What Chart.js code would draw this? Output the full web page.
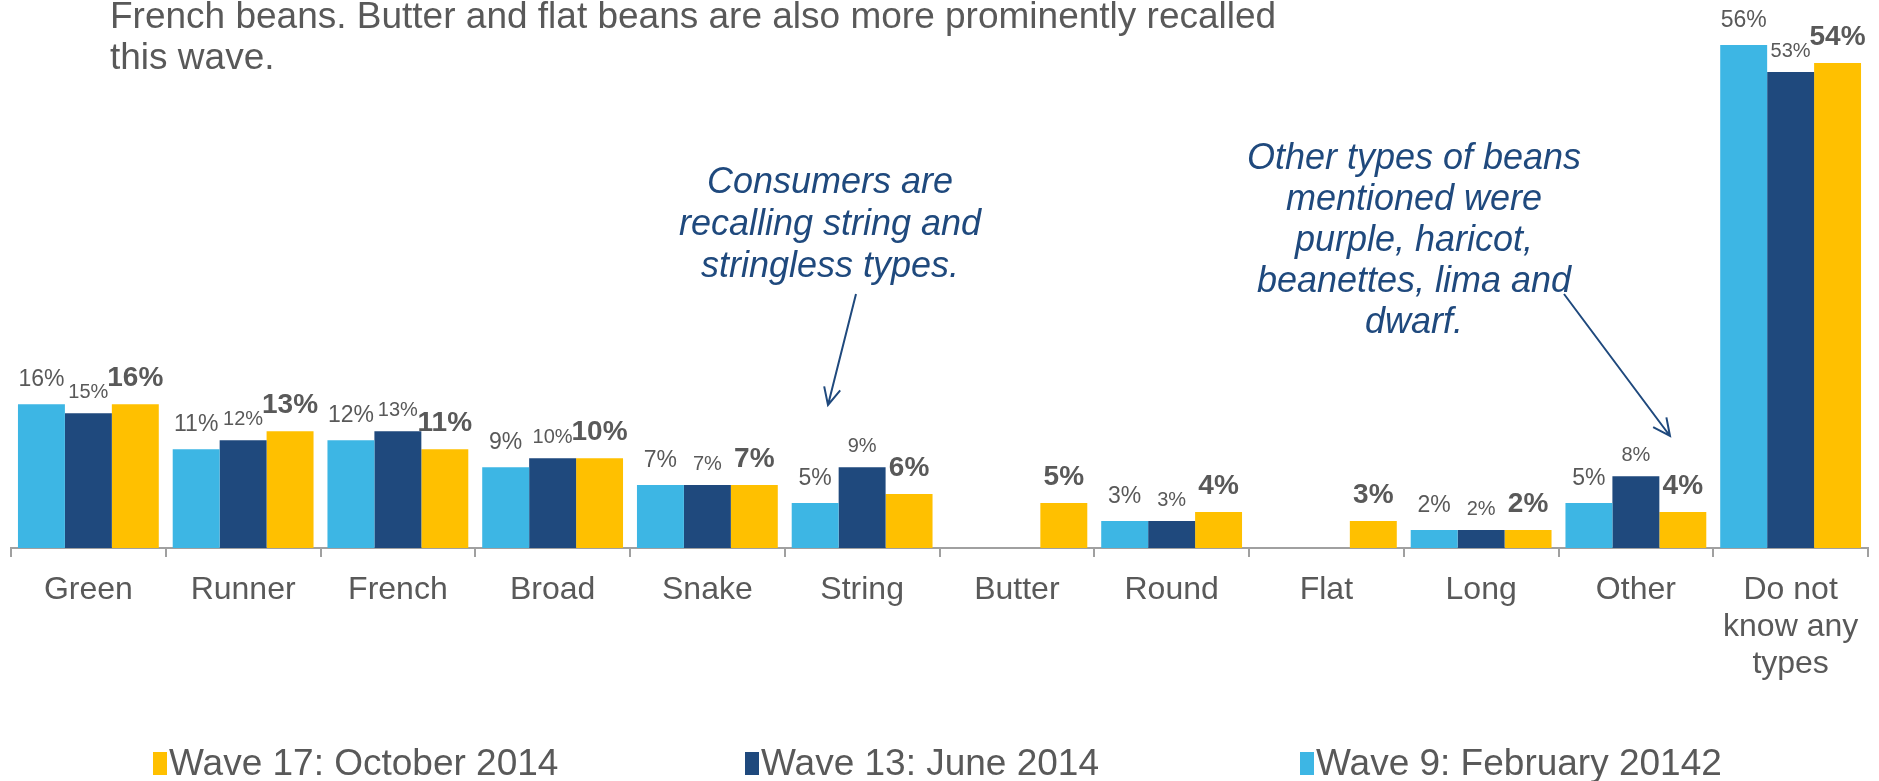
<!DOCTYPE html>
<html>
<head>
<meta charset="utf-8">
<script src="https://cdn.jsdelivr.net/npm/chart.js@4"></script>
<style>
  body { margin: 0; background: #fff; }
  #wrap { position: relative; width: 1879px; height: 781px; overflow: hidden; }
  #chart { position: absolute; left: 0; top: 0; }
  .legend-item { position: absolute; top: 742px; display: flex; align-items: center; font-family: "Liberation Sans", Arial, sans-serif; font-size: 37px; color: #595959; white-space: nowrap; }
  .legend-box { width: 14px; height: 23px; margin-right: 2px; }
</style>
</head>
<body>
<div id="wrap">
  <canvas id="chart" width="1879" height="781"></canvas>
  <div id="legend"></div>
</div>
<script>
// bean types recalled, per wave
const categories = ['Green', 'Runner', 'French', 'Broad', 'Snake', 'String', 'Butter', 'Round', 'Flat', 'Long', 'Other', ['Do not', 'know any', 'types']];
const wave9 = [16, 11, 12, 9, 7, 5, null, 3, null, 2, 5, 56];
const wave13 = [15, 12, 13, 10, 7, 9, null, 3, null, 2, 8, 53];
const wave17 = [16, 13, 11, 10, 7, 6, 5, 4, 3, 2, 4, 54];

const seriesNames = ['Wave 9: February 20142', 'Wave 13: June 2014', 'Wave 17: October 2014'];
const seriesColors = ['#3DB6E4', '#1F497D', '#FFC000'];

const FONT = '"Liberation Sans", Arial, sans-serif';
const GREY = '#595959';
const NOTE = '#1F497D';

// percentages above each bar, last wave in bold
const labelFonts = ['23px ' + FONT, '20px ' + FONT, 'bold 28px ' + FONT];
const labelGap = [18, 15, 18];
const valueLabels = {
  id: 'valueLabels',
  afterDatasetsDraw(chart) {
    const ctx = chart.ctx;
    chart.data.datasets.forEach((ds, i) => {
      const meta = chart.getDatasetMeta(i);
      meta.data.forEach((bar, j) => {
        const v = ds.data[j];
        if (v == null) return;
        ctx.save();
        ctx.font = labelFonts[i];
        ctx.fillStyle = GREY;
        ctx.textAlign = 'center';
        ctx.textBaseline = 'alphabetic';
        ctx.fillText(v + '%', bar.x, bar.y - labelGap[i]);
        ctx.restore();
      });
    });
  }
};

function arrow(ctx, x1, y1, x2, y2) {
  const a = Math.atan2(y2 - y1, x2 - x1);
  const len = 19;
  ctx.beginPath();
  ctx.moveTo(x1, y1);
  ctx.lineTo(x2, y2);
  ctx.moveTo(x2 - len * Math.cos(a - 0.45), y2 - len * Math.sin(a - 0.45));
  ctx.lineTo(x2, y2);
  ctx.lineTo(x2 - len * Math.cos(a + 0.45), y2 - len * Math.sin(a + 0.45));
  ctx.stroke();
}

// heading text and the two call-outs
const notes = {
  id: 'notes',
  afterDraw(chart) {
    const ctx = chart.ctx;
    ctx.save();
    ctx.font = '37px ' + FONT;
    ctx.fillStyle = GREY;
    ctx.textAlign = 'left';
    ctx.fillText('French beans. Butter and flat beans are also more prominently recalled', 110, 28);
    ctx.fillText('this wave.', 110, 69);

    ctx.font = 'italic 36px ' + FONT;
    ctx.fillStyle = NOTE;
    ctx.textAlign = 'center';
    ['Consumers are', 'recalling string and', 'stringless types.'].forEach((t, k) => {
      ctx.fillText(t, 830, 193 + k * 42);
    });
    ['Other types of beans', 'mentioned were', 'purple, haricot,', 'beanettes, lima and', 'dwarf.'].forEach((t, k) => {
      ctx.fillText(t, 1414, 169 + k * 41);
    });

    ctx.strokeStyle = NOTE;
    ctx.lineWidth = 2;
    arrow(ctx, 856, 294, 828, 405);
    arrow(ctx, 1564, 294, 1670, 436);
    ctx.restore();
  }
};

const chart = new Chart(document.getElementById('chart'), {
  type: 'bar',
  data: {
    labels: categories,
    datasets: [
      { label: seriesNames[0], data: wave9, backgroundColor: seriesColors[0] },
      { label: seriesNames[1], data: wave13, backgroundColor: seriesColors[1] },
      { label: seriesNames[2], data: wave17, backgroundColor: seriesColors[2] }
    ]
  },
  options: {
    responsive: false,
    animation: false,
    devicePixelRatio: 1,
    datasets: {
      bar: { categoryPercentage: 0.91, barPercentage: 1.0 }
    },
    layout: { padding: { top: 9, left: 11, right: 11 } },
    plugins: {
      legend: { display: false },
      tooltip: { enabled: false }
    },
    scales: {
      x: {
        grid: { drawOnChartArea: false, drawTicks: true, tickLength: 9, color: '#A0A0A0', lineWidth: 2 },
        border: { color: '#A0A0A0', width: 2 },
        ticks: { color: GREY, font: { family: FONT, size: 32, lineHeight: 1.17 }, padding: 14, maxRotation: 0 },
        afterFit(scale) { scale.height = 233; }
      },
      y: { display: false, min: 0, max: 60 }
    }
  },
  plugins: [valueLabels, notes]
});

// legend runs newest wave first
const legendLeft = [153, 745, 1300];
const legend = document.getElementById('legend');
chart.data.datasets.slice().reverse().forEach((ds, k) => {
  const item = document.createElement('div');
  item.className = 'legend-item';
  item.style.left = legendLeft[k] + 'px';
  item.innerHTML = '<span class="legend-box" style="background:' + ds.backgroundColor + '"></span>' + ds.label;
  legend.appendChild(item);
});
</script>
</body>
</html>
